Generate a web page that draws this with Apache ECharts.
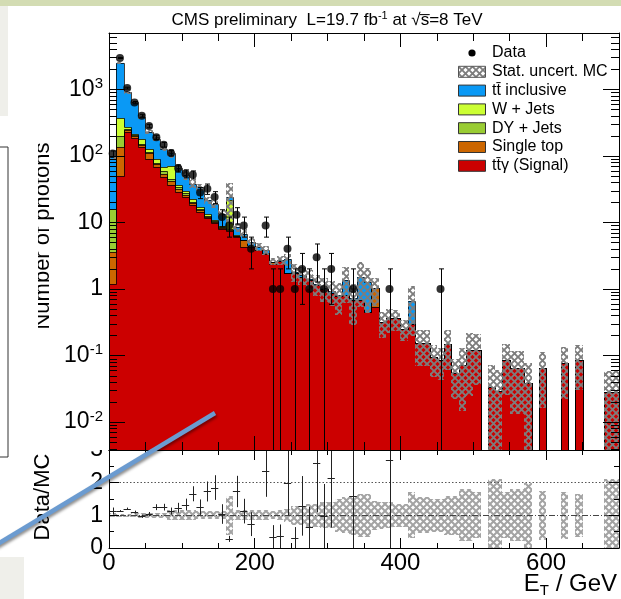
<!DOCTYPE html>
<html>
<head>
<meta charset="utf-8">
<title>ttgamma photon ET</title>
<script src="https://cdn.jsdelivr.net/npm/echarts@6/dist/echarts.min.js"></script>
<style>
  html, body { margin: 0; padding: 0; background: #fff; }
  #main { width: 621px; height: 599px; }
</style>
</head>
<body>
<div id="main"></div>
<script type="text/javascript">
// photon ET, 10 GeV bins from 0 to 700 GeV
var binWidth = 10;
var nBins = 70;

var signal = [1.2, 50, 226, 186, 135, 90, 67, 48, 37, 28.6,
    24, 18, 14.3, 11.5, 9.7, 7.9, 7.5, 6.1, 4.3, 4.3,
    3.8, 3.4, 2.37, 2.6, 1.75, 1.72, 1.53, 1.36, 1.15, 1.0,
    0.88, 0.77, 0.81, 0.68, 0.68, 0.45, 0.54, 0.32, 0.36, 0.36,
    0.25, 0.3, 0.154, 0.154, 0.095, 0.085, 0.15, 0.055, 0.073, 0.122,
    0.122, 0, 0.034, 0.029, 0.086, 0.065, 0.065, 0.039, 0, 0.065,
    0, 0, 0.078, 0, 0.086, 0, 0, 0, 0.028, 0.028];
var singleTop = [2.4, 85, 15, 12, 10, 20, 8, 6, 5, 3,
    2, 1.5, 1, 0.5, 0.5, 0.3, 0.2, 0.2, 1.2, 0.1,
    0.1, 0.1, 0.2, 0, 0, 0, 0, 0, 0, 0,
    0, 0, 0, 0, 0, 0, 0.48, 0, 0, 0,
    0, 0, 0, 0, 0, 0, 0, 0, 0, 0,
    0, 0, 0, 0, 0, 0, 0, 0, 0, 0,
    0, 0, 0, 0, 0, 0, 0, 0, 0, 0];
var dyJets = [12.4, 65, 10, 5, 6, 3, 3, 6, 3, 2,
    2, 1, 0.5, 0.5, 0.3, 0.2, 0.3, 0, 0, 0,
    0, 0, 0, 0, 0, 0, 0, 0, 0, 0,
    0, 0, 0, 0, 0, 0, 0, 0, 0, 0,
    0, 0, 0, 0, 0, 0, 0, 0, 0, 0,
    0, 0, 0, 0, 0, 0, 0, 0, 0, 0,
    0, 0, 0, 0, 0, 0, 0, 0, 0, 0];
var wJets = [0, 170, 20, 10, 25, 12, 10, 8, 26, 3,
    2, 2, 1, 1, 0.5, 0.4, 14, 0.2, 0, 0,
    0, 0, 0, 0, 0, 0, 0, 0, 0, 0,
    0, 0, 0, 0, 0, 0, 0, 0, 0, 0,
    0, 0, 0, 0, 0, 0, 0, 0, 0, 0,
    0, 0, 0, 0, 0, 0, 0, 0, 0, 0,
    0, 0, 0, 0, 0, 0, 0, 0, 0, 0];
var ttInclusive = [79, 2140, 626, 422, 204, 104, 92, 60, 38, 30,
    21, 15.5, 17, 8, 8, 4.7, 2, 2, 1.3, 0.6,
    0.4, 0.3, 0, 0.1, 1.05, 0.1, 0.1, 0.05, 0.05, 0.05,
    0.05, 0.05, 0.55, 0.05, 0.85, 0.8, 0, 0, 0, 0,
    0, 0.35, 0, 0, 0, 0, 0, 0, 0, 0,
    0, 0, 0, 0, 0, 0, 0, 0, 0, 0,
    0, 0, 0, 0, 0, 0, 0, 0, 0, 0];
// relative MC stat. uncertainty per bin
var mcRelErr = [0.06, 0.04, 0.05, 0.06, 0.07, 0.07, 0.08, 0.08, 0.15, 0.15,
    0.15, 0.15, 0.12, 0.12, 0.12, 0.12, 0.6, 0.15, 0.15, 0.15,
    0.15, 0.15, 0.12, 0.15, 0.2, 0.3, 0.3, 0.35, 0.35, 0.4,
    0.4, 0.5, 0.55, 0.6, 0.65, 0.65, 0.45, 0.42, 0.4, 0.35,
    0.35, 0.7, 0.55, 0.55, 0.5, 0.5, 0.6, 0.6, 0.8, 0.8,
    0.7, 0, 1.1, 1.1, 0.7, 0.8, 0.8, 1.0, 0, 0.75,
    0, 0, 0.72, 0, 0.65, 0, 0, 0, 1.1, 1.1];
var dataCounts = [108, 2950, 1040, 630, 400, 280, 190, 147, 110, 65,
    54, 52, 28, 32, 24, 12, 9, 13, 9, 4,
    0, 9, 1, 1, 4, 1, 2, 1, 3, 1,
    2, 0, 0, 1, 0, 0, 0, 0, 1, 0,
    0, 0, 0, 0, 0, 1, 0, 0, 0, 0,
    0, 0, 0, 0, 0, 0, 0, 0, 0, 0,
    0, 0, 0, 0, 0, 0, 0, 0, 0, 0];
// Data/MC as read from the lower pad (null = not drawn)
var ratioValues = [1.13, 1.14, 1.2, 1.1, 0.97, 1.04, 1.25, 1.25, 1.13, 1.23,
    1.33, 1.66, 1.25, 1.73, 1.85, 1.04, 0.28, 1.73, 1.13, 0.73,
    null, 2.35, 0.35, 0.36, 2.0, 0.32, 1.29, 0.63, 2.6, 0.98,
    2.14, null, null, 1.58, null, null, null, null, 2.69, null,
    null, null, null, null, null, null, null, null, null, null,
    null, null, null, null, null, null, null, null, null, null,
    null, null, null, null, null, null, null, null, null, null];

var yTickValues = [0.01, 0.1, 1, 10, 100, 1000];
var yTickBase = ['10', '10', '1', '10', '10', '10'];
var yTickExp = ['-2', '-1', '', '', '2', '3'];

var legendNames = ['Data', 'Stat. uncert. MC', 'tt\u0304 inclusive', 'W + Jets', 'DY + Jets', 'Single top', 'tt\u0304\u03b3 (Signal)'];

var FONT = "'Liberation Sans', Arial, Helvetica, sans-serif";
var Y_MIN = 0.0038, Y_MAX = 7000, X_MAX = 700;

var layers = [
    { values: signal, color: '#cc0000' },
    { values: singleTop, color: '#cc6600' },
    { values: dyJets, color: '#99cc33' },
    { values: wJets, color: '#ccff33' },
    { values: ttInclusive, color: '#0a99f5' }
];
var legendColors = ['#0a99f5', '#ccff33', '#99cc33', '#cc6600', '#cc0000'];

function makeHatch(color, size, width) {
    var c = document.createElement('canvas');
    c.width = size; c.height = size;
    var ctx = c.getContext('2d');
    ctx.strokeStyle = color;
    ctx.lineWidth = width;
    ctx.beginPath();
    ctx.moveTo(0, 0); ctx.lineTo(size, size);
    ctx.moveTo(size, 0); ctx.lineTo(0, size);
    ctx.stroke();
    return { image: c, repeat: 'repeat' };
}
var hatchTop = makeHatch('#7d7d7d', 7, 1.9);
var hatchLow = makeHatch('#a3a3a3', 7, 2);

// ---- stacked layers
var cum = [];
for (var i = 0; i < nBins; i++) cum.push(0);
var series = [];

function stackRender(color) {
    return function (params, api) {
        var a = api.coord([api.value(0), api.value(3)]);
        var b = api.coord([api.value(1), api.value(2)]);
        var yPrev = Math.round(api.coord([api.value(0), api.value(4)])[1]) + 0.5;
        var l = Math.round(a[0]), r = Math.round(b[0]), t = Math.round(a[1]), bt = Math.round(b[1]);
        return {
            type: 'group',
            children: [
                { type: 'rect', shape: { x: l, y: t, width: r - l, height: bt - t }, style: { fill: color }, z2: 0 },
                { type: 'polyline', shape: { points: [[l + 0.5, yPrev], [l + 0.5, t + 0.5], [r + 0.5, t + 0.5]] },
                  style: { stroke: 'rgba(0,0,0,0.75)', lineWidth: 1, fill: null }, z2: 10 }
            ]
        };
    };
}

layers.forEach(function (layer) {
    var items = [];
    var hiArr = [];
    for (var i = 0; i < nBins; i++) hiArr.push(cum[i] + layer.values[i]);
    for (var j = 0; j < nBins; j++) {
        var prev = j > 0 ? Math.max(hiArr[j - 1], Y_MIN) : Y_MIN;
        items.push([j * binWidth, (j + 1) * binWidth, Math.max(cum[j], Y_MIN), Math.max(hiArr[j], Y_MIN), prev]);
    }
    for (var k = 0; k < nBins; k++) cum[k] = hiArr[k];
    series.push({
        type: 'custom', xAxisIndex: 0, yAxisIndex: 0, z: 2,
        encode: { x: [0, 1], y: [2, 3] },
        renderItem: stackRender(layer.color),
        data: items, silent: true
    });
});

// ---- MC stat. uncertainty (upper and lower pads)
var hatchItems = [], bandItems = [];
for (var i = 0; i < nBins; i++) {
    if (cum[i] <= 0) continue;
    hatchItems.push([i * binWidth, (i + 1) * binWidth,
        Math.max(cum[i] * (1 - mcRelErr[i]), Y_MIN), cum[i] * (1 + mcRelErr[i])]);
    bandItems.push([i * binWidth, (i + 1) * binWidth,
        Math.max(1 - mcRelErr[i], 0), Math.min(1 + mcRelErr[i], 3)]);
}
function hatchRender(pattern) {
    return function (params, api) {
        var a = api.coord([api.value(0), api.value(3)]);
        var b = api.coord([api.value(1), api.value(2)]);
        var l = Math.round(a[0]), r = Math.round(b[0]), t = Math.round(a[1]), bt = Math.round(b[1]);
        return { type: 'rect', shape: { x: l, y: t, width: r - l, height: bt - t }, style: { fill: pattern } };
    };
}
series.push({
    type: 'custom', xAxisIndex: 0, yAxisIndex: 0, z: 3,
    encode: { x: [0, 1], y: [2, 3] }, renderItem: hatchRender(hatchTop), data: hatchItems, silent: true
});
series.push({
    type: 'custom', xAxisIndex: 2, yAxisIndex: 2, z: 3,
    encode: { x: [0, 1], y: [2, 3] }, renderItem: hatchRender(hatchLow), data: bandItems, silent: true
});

// ---- data points with Poisson errors
var dataPts = [], dataErr = [];
for (var i = 0; i < nBins; i++) {
    var n = dataCounts[i];
    if (n <= 0) continue;
    var e = Math.sqrt(n);
    dataPts.push([i * binWidth + binWidth / 2, n]);
    dataErr.push([i * binWidth + binWidth / 2, Math.max(n - e, Y_MIN), n + e, n - e > Y_MIN ? 1 : 0]);
}
series.push({
    type: 'custom', xAxisIndex: 0, yAxisIndex: 0, z: 5,
    encode: { x: 0, y: [1, 2] },
    renderItem: function (params, api) {
        var lo = api.coord([api.value(0), api.value(1)]);
        var hi = api.coord([api.value(0), api.value(2)]);
        var x = Math.round(lo[0]) + 0.5;
        var kids = [
            { type: 'line', shape: { x1: x, y1: lo[1], x2: x, y2: hi[1] }, style: { stroke: '#000', lineWidth: 1 } },
            { type: 'line', shape: { x1: x - 2.5, y1: hi[1], x2: x + 2.5, y2: hi[1] }, style: { stroke: '#000', lineWidth: 1 } }
        ];
        if (api.value(3)) {
            kids.push({ type: 'line', shape: { x1: x - 2.5, y1: lo[1], x2: x + 2.5, y2: lo[1] }, style: { stroke: '#000', lineWidth: 1 } });
        }
        return { type: 'group', children: kids };
    },
    data: dataErr, silent: true
});
series.push({
    type: 'scatter', xAxisIndex: 0, yAxisIndex: 0, z: 6,
    symbol: 'circle', symbolSize: 8,
    itemStyle: { color: '#000' }, data: dataPts, silent: true
});

// ---- ratio points
var ratioItems = [];
for (var i = 0; i < nBins; i++) {
    var r = ratioValues[i];
    if (r === null || dataCounts[i] <= 0) continue;
    var re = r / Math.sqrt(dataCounts[i]);
    ratioItems.push([i * binWidth, (i + 1) * binWidth, r, Math.max(r - re, 0), Math.min(r + re, 3)]);
}
series.push({
    type: 'custom', xAxisIndex: 2, yAxisIndex: 2, z: 5,
    encode: { x: [0, 1], y: [3, 4] },
    renderItem: function (params, api) {
        var p0 = api.coord([api.value(0), api.value(2)]);
        var p1 = api.coord([api.value(1), api.value(2)]);
        var xc = Math.round((p0[0] + p1[0]) / 2) + 0.5;
        var yl = api.coord([0, api.value(3)])[1];
        var yh = api.coord([0, api.value(4)])[1];
        var y = Math.round(p0[1]) + 0.5;
        return {
            type: 'group', children: [
                { type: 'line', shape: { x1: p0[0], y1: y, x2: p1[0], y2: y }, style: { stroke: '#222', lineWidth: 1 } },
                { type: 'line', shape: { x1: xc, y1: yl, x2: xc, y2: yh }, style: { stroke: '#222', lineWidth: 1 } }
            ]
        };
    },
    data: ratioItems, silent: true
});

// reference lines at 1 and 2
series.push({
    type: 'line', xAxisIndex: 2, yAxisIndex: 2, data: [], silent: true,
    markLine: {
        silent: true, symbol: 'none', label: { show: false },
        data: [
            { yAxis: 1, lineStyle: { color: '#444', width: 1, type: [6, 2, 1, 2] } },
            { yAxis: 2, lineStyle: { color: '#555', width: 1, type: [1.5, 2] } }
        ]
    }
});

// ---- log-axis ticks and labels, both sides
var minorVals = [];
for (var k = -3; k <= 3; k++) {
    for (var m = 2; m <= 9; m++) {
        var v = m * Math.pow(10, k);
        if (v > Y_MIN && v < Y_MAX) minorVals.push([0, v]);
    }
}
function yTickRender(isMajor) {
    return function (params, api) {
        var v = api.value(1);
        var pl = api.coord([0, v]);
        var pr = api.coord([X_MAX, v]);
        var len = isMajor ? 16 : 8;
        var y = Math.round(pl[1]) + 0.5;
        var kids = [
            { type: 'line', shape: { x1: pl[0], y1: y, x2: pl[0] + len, y2: y }, style: { stroke: '#000', lineWidth: 1 } },
            { type: 'line', shape: { x1: pr[0] - len, y1: y, x2: pr[0], y2: y }, style: { stroke: '#000', lineWidth: 1 } }
        ];
        if (isMajor) {
            var idx = params.dataIndex;
            var txt = '{b|' + yTickBase[idx] + '}' + (yTickExp[idx] ? '{s|' + yTickExp[idx] + '}' : '');
            kids.push({
                type: 'text',
                style: {
                    x: pl[0] - 6, y: pl[1], text: txt,
                    align: 'right', verticalAlign: 'middle',
                    textAlign: 'right', textVerticalAlign: 'middle',
                    rich: {
                        b: { fontSize: 23, fontFamily: FONT, fill: '#000', lineHeight: 26, verticalAlign: 'middle' },
                        s: { fontSize: 15, fontFamily: FONT, fill: '#000', verticalAlign: 'top' }
                    }
                }
            });
        }
        return { type: 'group', children: kids };
    };
}
series.push({
    type: 'custom', xAxisIndex: 0, yAxisIndex: 0, z: 20, silent: true,
    encode: { x: 0, y: 1 }, renderItem: yTickRender(true),
    data: yTickValues.map(function (v) { return [0, v]; })
});
series.push({
    type: 'custom', xAxisIndex: 0, yAxisIndex: 0, z: 20, silent: true,
    encode: { x: 0, y: 1 }, renderItem: yTickRender(false), data: minorVals
});

// ---- axes
function xAx(grid, pos, major, minor, labels) {
    return {
        gridIndex: grid, type: 'value', position: pos, min: 0, max: X_MAX, interval: 200, z: 10,
        axisLine: { onZero: false, lineStyle: { color: '#000', width: 1 } },
        axisTick: { inside: true, length: major, lineStyle: { color: '#000' } },
        minorTick: { show: true, splitNumber: 4, length: minor, lineStyle: { color: '#000' } },
        axisLabel: labels ? { show: true, showMaxLabel: false, fontSize: 24, color: '#000', fontFamily: FONT, margin: 3 } : { show: false },
        splitLine: { show: false }
    };
}
function logAx(pos) {
    return {
        gridIndex: 0, type: 'log', logBase: 10, position: pos, min: Y_MIN, max: Y_MAX, z: 10,
        axisLine: { onZero: false, lineStyle: { color: '#000', width: 1 } },
        axisTick: { show: false }, axisLabel: { show: false }, splitLine: { show: false }
    };
}
function ratioAx(pos, labels) {
    return {
        gridIndex: 1, type: 'value', position: pos, min: 0, max: 3, interval: 1, z: 10,
        axisLine: { onZero: false, lineStyle: { color: '#000', width: 1 } },
        axisTick: { inside: true, length: 10, lineStyle: { color: '#000' } },
        minorTick: { show: true, splitNumber: 2, length: 5, lineStyle: { color: '#000' } },
        axisLabel: labels ? { show: true, fontSize: 23, color: '#000', fontFamily: FONT, margin: 6 } : { show: false },
        splitLine: { show: false }
    };
}

// ---- legend and decorations
var graphics = [
    { type: 'rect', shape: { x: 0, y: 0, width: 621, height: 6 }, style: { fill: '#d3dcb3' }, z: 0 },
    { type: 'rect', shape: { x: 0, y: 6, width: 8, height: 110 }, style: { fill: '#efefea' }, z: 0 },
    { type: 'rect', shape: { x: -2, y: 147, width: 10, height: 310 }, style: { fill: '#fff', stroke: '#333', lineWidth: 1 }, z: 0 },
    { type: 'rect', shape: { x: 0, y: 557, width: 24, height: 42 }, style: { fill: '#efefea' }, z: 0 },
    {
        type: 'text', x: 327, y: 20, z: 50,
        style: {
            text: '{a|CMS preliminary  L=19.7 fb}{s|-1}{a| at \u221as\u0305=8 TeV}',
            align: 'center', verticalAlign: 'middle', textAlign: 'center', textVerticalAlign: 'middle',
            rich: {
                a: { fontSize: 17, fontFamily: FONT, fill: '#000', lineHeight: 20 },
                s: { fontSize: 11, fontFamily: FONT, fill: '#000', verticalAlign: 'top' }
            }
        }
    },
    {
        type: 'text', x: 43, y: 236, rotation: Math.PI / 2, z: 50,
        style: { text: 'Number of photons', fontSize: 22, fontFamily: FONT, fill: '#000',
                 align: 'center', verticalAlign: 'middle', textAlign: 'center', textVerticalAlign: 'middle' }
    },
    { type: 'rect', shape: { x: 9, y: 120, width: 29, height: 230 }, style: { fill: '#fff' }, z: 60 },
    {
        type: 'text', x: 43, y: 497, rotation: Math.PI / 2, z: 50,
        style: { text: 'Data/MC', fontSize: 22, fontFamily: FONT, fill: '#000',
                 align: 'center', verticalAlign: 'middle', textAlign: 'center', textVerticalAlign: 'middle' }
    },
    { type: 'rect', shape: { x: 60, y: 437, width: 48, height: 13 }, style: { fill: '#fff' }, z: 60 },
    {
        type: 'text', x: 617, y: 584, z: 50,
        style: {
            text: '{a|E}{t|T}{a| / GeV}',
            align: 'right', verticalAlign: 'middle', textAlign: 'right', textVerticalAlign: 'middle',
            rich: {
                a: { fontSize: 24, fontFamily: FONT, fill: '#000', lineHeight: 28 },
                t: { fontSize: 15, fontFamily: FONT, fill: '#000', verticalAlign: 'bottom' }
            }
        }
    },
    {
        type: 'line', shape: { x1: -4, y1: 545, x2: 215, y2: 413 }, z: 200,
        style: { stroke: '#6b9bd0', lineWidth: 4.5, shadowBlur: 3, shadowColor: 'rgba(0,0,0,0.45)', shadowOffsetX: 1, shadowOffsetY: 2 }
    }
];

var legTop = 53, legStep = 18.8;
graphics.push({ type: 'circle', shape: { cx: 472, cy: legTop, r: 3.6 }, style: { fill: '#000' }, z: 50 });
graphics.push({ type: 'rect', shape: { x: 458.5, y: legTop + legStep - 5.5, width: 27, height: 11 },
                style: { fill: hatchTop, stroke: '#555', lineWidth: 1 }, z: 50 });
for (var li = 0; li < legendColors.length; li++) {
    var cy = legTop + legStep * (li + 2);
    graphics.push({ type: 'rect', shape: { x: 458.5, y: cy - 5.5, width: 27, height: 11 },
                    style: { fill: legendColors[li], stroke: '#333', lineWidth: 1 }, z: 50 });
}
for (var lj = 0; lj < legendNames.length; lj++) {
    graphics.push({
        type: 'text', x: 492, y: legTop + legStep * lj, z: 50,
        style: { text: legendNames[lj], fontSize: 16, fontFamily: FONT, fill: '#000',
                 align: 'left', verticalAlign: 'middle', textAlign: 'left', textVerticalAlign: 'middle' }
    });
}

var myChart = echarts.init(document.getElementById('main'), null, { renderer: 'canvas' });
var option = {
    animation: false,
    backgroundColor: '#fff',
    grid: [
        { left: 109, top: 33, width: 510, height: 417, outerBoundsMode: 'none', containLabel: false },
        { left: 109, top: 450, width: 510, height: 98, outerBoundsMode: 'none', containLabel: false }
    ],
    xAxis: [
        xAx(0, 'bottom', 14, 8, false),
        xAx(0, 'top', 14, 8, false),
        xAx(1, 'bottom', 10, 5, true),
        xAx(1, 'top', 10, 5, false)
    ],
    yAxis: [
        logAx('left'),
        logAx('right'),
        ratioAx('left', true),
        ratioAx('right', false)
    ],
    graphic: { elements: graphics },
    series: series
};
myChart.setOption(option);
</script>
</body>
</html>
